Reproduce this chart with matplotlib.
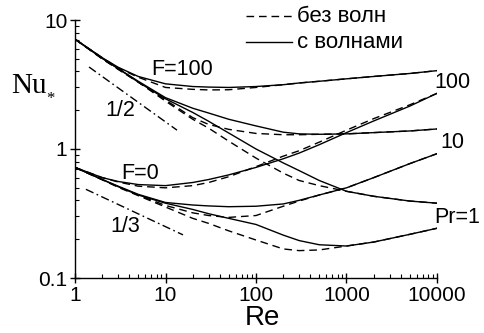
import matplotlib
matplotlib.use("Agg")
import matplotlib.pyplot as plt
from matplotlib.lines import Line2D
from matplotlib.ticker import LogLocator, FixedLocator, FixedFormatter, NullFormatter

plt.rcParams['font.family'] = ['Liberation Sans', 'DejaVu Sans']

# Reynolds numbers at which Nu* is tabulated
re_grid = [1, 2, 3, 5, 10, 20, 30, 50, 100, 200, 300, 500, 1000, 2000, 5000, 10000]

# F = 100 family: with waves (solid) and without waves (dashed)
nu_f100_pr100_wave = [7.1, 5.1, 4.3, 3.65, 3.2, 3.05, 3.02, 3.0, 3.05, 3.15, 3.25, 3.35, 3.5, 3.65, 3.85, 4.05]
nu_f100_pr100_flat = [7.1, 5.1, 4.25, 3.6, 3.0, 2.9, 2.87, 2.88, 3.0, 3.15, 3.25, 3.35, 3.5, 3.65, 3.85, 4.05]
nu_f100_pr10_wave = [7.1, 5.05, 4.2, 3.35, 2.5, 2.07, 1.9, 1.7, 1.51, 1.35, 1.31, 1.3, 1.31, 1.34, 1.38, 1.43]
nu_f100_pr10_flat = [7.1, 5.0, 4.15, 3.3, 2.4, 1.75, 1.55, 1.42, 1.32, 1.29, 1.29, 1.3, 1.31, 1.34, 1.38, 1.43]
nu_f100_pr1_wave = [7.1, 5.05, 4.2, 3.3, 2.45, 1.92, 1.64, 1.33, 1.0, 0.78, 0.68, 0.57, 0.47, 0.43, 0.395, 0.38]
nu_f100_pr1_flat = [7.1, 5.0, 4.15, 3.3, 2.35, 1.7, 1.45, 1.15, 0.85, 0.65, 0.57, 0.52, 0.47, 0.43, 0.395, 0.38]

# F = 0 family
nu_f0_pr100_wave = [0.72, 0.6, 0.56, 0.53, 0.52, 0.55, 0.58, 0.63, 0.72, 0.84, 0.93, 1.08, 1.34, 1.65, 2.15, 2.7]
nu_f0_pr100_flat = [0.72, 0.6, 0.555, 0.515, 0.5, 0.52, 0.55, 0.61, 0.73, 0.88, 0.97, 1.13, 1.4, 1.72, 2.2, 2.7]
nu_f0_pr10_wave = [0.72, 0.58, 0.515, 0.445, 0.385, 0.368, 0.362, 0.357, 0.36, 0.375, 0.4, 0.44, 0.5, 0.6, 0.77, 0.92]
nu_f0_pr10_flat = [0.72, 0.578, 0.51, 0.44, 0.365, 0.32, 0.305, 0.295, 0.305, 0.36, 0.395, 0.44, 0.5, 0.6, 0.77, 0.92]
nu_f0_pr1_wave = [0.72, 0.58, 0.51, 0.44, 0.38, 0.34, 0.315, 0.29, 0.26, 0.215, 0.195, 0.181, 0.177, 0.19, 0.218, 0.243]
nu_f0_pr1_flat = [0.72, 0.578, 0.505, 0.435, 0.355, 0.29, 0.265, 0.232, 0.197, 0.168, 0.163, 0.165, 0.177, 0.19, 0.218, 0.243]

# asymptotic slopes Re^(-1/2) and Re^(-1/3)
slope_half_re = [1.43, 13.4]
slope_half_nu = [4.32, 1.40]
slope_third_re = [1.32, 15.6]
slope_third_nu = [0.487, 0.216]

x_ticks = [1, 10, 100, 1000, 10000]
x_tick_labels = ['1', '10', '100', '1000', '10000']
y_ticks = [0.1, 1, 10]
y_tick_labels = ['0.1', '1', '10']

W, H = 484, 333
fig = plt.figure(figsize=(W / 100, H / 100), dpi=100)
ax = fig.add_axes([75 / W, 55 / H, 362 / W, 258 / H])

lw = 1.0
dash = (5.5, 3.5)
wave_sets = [nu_f100_pr100_wave, nu_f100_pr10_wave, nu_f100_pr1_wave,
             nu_f0_pr100_wave, nu_f0_pr10_wave, nu_f0_pr1_wave]
flat_sets = [nu_f100_pr100_flat, nu_f100_pr10_flat, nu_f100_pr1_flat,
             nu_f0_pr100_flat, nu_f0_pr10_flat, nu_f0_pr1_flat]
for nu in flat_sets:
    ax.plot(re_grid, nu, color='black', lw=lw, ls=(0, dash))
for nu in wave_sets:
    ax.plot(re_grid, nu, color='black', lw=lw, ls='-')

ax.plot(slope_half_re, slope_half_nu, color='black', lw=lw, ls=(0, (6, 2.5, 1.2, 2.5)))
ax.plot(slope_third_re, slope_third_nu, color='black', lw=lw, ls=(0, (6, 2.5, 1.2, 2.5)))

ax.set_xscale('log')
ax.set_yscale('log')
ax.set_xlim(1, 10000)
ax.set_ylim(0.1, 10)

ax.xaxis.set_major_locator(FixedLocator(x_ticks))
ax.xaxis.set_major_formatter(FixedFormatter(x_tick_labels))
ax.yaxis.set_major_locator(FixedLocator(y_ticks))
ax.yaxis.set_major_formatter(FixedFormatter(y_tick_labels))
ax.xaxis.set_minor_locator(LogLocator(base=10, subs=range(2, 10)))
ax.yaxis.set_minor_locator(LogLocator(base=10, subs=range(2, 10)))
ax.xaxis.set_minor_formatter(NullFormatter())
ax.yaxis.set_minor_formatter(NullFormatter())

for side in ('top', 'right'):
    ax.spines[side].set_visible(False)
for side in ('left', 'bottom'):
    ax.spines[side].set_linewidth(1.0)

ax.tick_params(which='major', direction='inout', length=7, width=1.0, labelsize=15, pad=2)
ax.tick_params(which='minor', direction='in', length=3, width=0.8)

txt = dict(fontsize=15.5, ha='center', va='center')
ax.text(15.2, 4.1, 'F=100', **txt)
ax.text(3.14, 2.0, '1/2', **txt)
ax.text(5.2, 0.65, 'F=0', **txt)
ax.text(3.57, 0.249, '1/3', **txt)
ax.text(15000, 3.25, '100', clip_on=False, **txt)
ax.text(14650, 1.13, '10', clip_on=False, **txt)
ax.text(16600, 0.297, 'Pr=1', clip_on=False, **txt)

fig.text(262 / W, 1 - 318 / H, 'Re', fontsize=20, ha='center', va='center')
fig.text(29 / W, 1 - 86 / H, 'Nu', fontsize=21, ha='center', va='center', family='Liberation Serif')
fig.text(50 / W, 1 - 99 / H, '*', fontsize=12, ha='center', va='center', family='Liberation Serif')

# legend drawn by hand at the top
fig.add_artist(Line2D([246 / W, 292 / W], [1 - 16 / H, 1 - 16 / H], color='black', lw=lw,
                      ls=(0, dash), transform=fig.transFigure))
fig.add_artist(Line2D([246 / W, 292 / W], [1 - 42 / H, 1 - 42 / H], color='black', lw=lw,
                      transform=fig.transFigure))
fig.text(297 / W, 1 - 16 / H, 'без волн', fontsize=16, ha='left', va='center')
fig.text(297 / W, 1 - 42 / H, 'с волнами', fontsize=16, ha='left', va='center')

fig.savefig('out.png', dpi=100)
